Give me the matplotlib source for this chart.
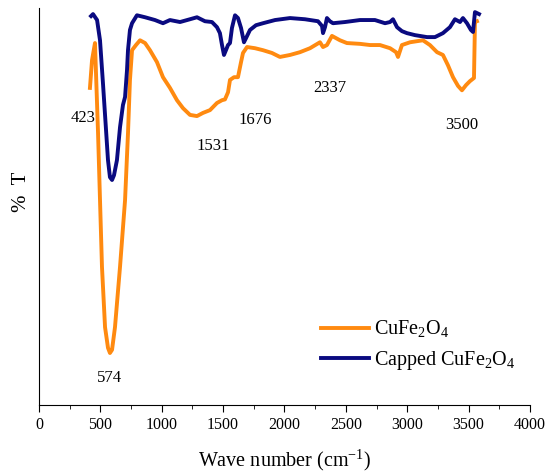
import numpy as np
import matplotlib
matplotlib.use("Agg")
import matplotlib.pyplot as plt

plt.rcParams['font.family'] = ['Liberation Serif', 'DejaVu Serif']
plt.rcParams['mathtext.fontset'] = 'custom'
plt.rcParams['mathtext.rm'] = 'Liberation Serif'

# FTIR spectra (wave number cm-1, relative %T)
wave_plain = [415, 432, 456, 481, 497, 513, 538, 562, 578, 595, 619, 660, 701, 725, 741,
              758, 790, 823, 864, 904, 961, 1010, 1067, 1124, 1173, 1230, 1287, 1336, 1393,
              1450, 1491, 1515, 1540, 1556, 1589, 1621, 1646, 1662, 1695, 1760, 1825, 1898,
              1963, 2045, 2126, 2208, 2289, 2314, 2346, 2387, 2452, 2509, 2615, 2697, 2778,
              2860, 2909, 2925, 2957, 3023, 3128, 3185, 3243, 3291, 3332, 3373, 3414, 3446,
              3479, 3511, 3544, 3552, 3568]
t_plain = [79.9, 86.9, 91.2, 68.5, 51.6, 34.8, 19.6, 14.4, 13.1, 13.9, 19.6, 34.8, 51.6, 68.5,
           81.9, 89.4, 90.7, 91.9, 91.2, 89.4, 86.4, 82.6, 79.9, 76.8, 74.8, 73.1, 72.8, 73.6,
           74.3, 76.1, 76.8, 77.0, 78.8, 81.9, 82.6, 82.6, 86.4, 88.7, 90.2, 89.9, 89.4, 88.7,
           87.7, 88.2, 88.9, 89.9, 91.4, 90.2, 90.7, 93.0, 91.9, 91.2, 91.0, 90.7, 90.7, 89.9,
           88.9, 87.7, 90.7, 91.4, 91.9, 90.7, 88.9, 88.2, 85.6, 82.6, 80.4, 79.3, 80.6, 81.6,
           82.4, 96.5, 96.7]

wave_capped = [424, 440, 473, 497, 521, 546, 562, 578, 595, 611, 635, 660, 684, 701, 717, 725,
               741, 758, 798, 864, 945, 1010, 1067, 1149, 1230, 1287, 1352, 1409, 1450, 1474,
               1491, 1507, 1523, 1540, 1556, 1572, 1597, 1621, 1646, 1670, 1686, 1719, 1768,
               1825, 1923, 2045, 2167, 2273, 2306, 2314, 2330, 2346, 2370, 2395, 2493, 2615,
               2737, 2819, 2860, 2884, 2917, 2957, 2998, 3063, 3161, 3226, 3291, 3348, 3389,
               3430, 3454, 3487, 3519, 3536, 3552, 3585]
t_capped = [98.0, 98.5, 97.0, 91.9, 81.1, 69.3, 61.7, 57.4, 56.7, 57.9, 61.7, 70.0, 75.6, 77.6,
            84.4, 89.4, 94.5, 96.2, 98.2, 97.7, 97.0, 96.2, 97.0, 96.5, 97.2, 97.7, 96.7, 96.5,
            95.2, 93.7, 90.7, 88.2, 89.4, 90.7, 91.2, 95.0, 98.2, 97.5, 95.0, 91.4, 92.4, 94.5,
            95.7, 96.2, 97.0, 97.5, 97.2, 96.7, 95.5, 93.7, 95.2, 97.5, 96.7, 96.2, 96.5, 97.0,
            97.0, 96.2, 96.5, 97.2, 95.2, 94.2, 93.7, 93.2, 92.7, 92.7, 93.7, 95.2, 97.2, 96.5,
            97.5, 96.2, 94.5, 94.0, 99.0, 98.5]

peak_labels = ['423', '574', '1531', '1676', '2337', '3500']
peak_x = [358, 578, 1418, 1760, 2371, 3446]
peak_y = [72.3, 6.8, 65.2, 71.8, 79.9, 70.5]

fig = plt.figure(figsize=(5.51, 4.73), dpi=100)
ax = fig.add_axes([0.0708, 0.1438, 0.891, 0.839])

ax.plot(wave_plain, t_plain, color='#FF8A10', lw=2.8, label='CuFe$_\\mathregular{2}$O$_\\mathregular{4}$')
ax.plot(wave_capped, t_capped, color='#0A0A80', lw=2.8, label='Capped CuFe$_\\mathregular{2}$O$_\\mathregular{4}$')

for lab, x, y in zip(peak_labels, peak_x, peak_y):
    ax.text(x, y, lab, ha='center', va='center', fontsize=12)

ax.set_xlim(0, 4000)
ax.set_ylim(0, 100)
ax.set_xticks(np.arange(0, 4001, 500))
ax.set_xticks(np.arange(250, 4000, 500), minor=True)
ax.tick_params(axis='x', which='major', direction='out', length=5, labelsize=11.5, pad=4)
ax.tick_params(axis='x', which='minor', direction='out', length=3)
ax.set_yticks([])
ax.spines['top'].set_visible(False)
ax.spines['right'].set_visible(False)

fig.text(285 / 551, 1 - 460 / 473, 'Wave number (cm$^\\mathregular{-1}$)', ha='center', va='center', fontsize=14.5)
fig.text(22 / 551, 1 - 192 / 473, '%  T', ha='center', va='center', rotation=90, fontsize=15)

ax.legend(loc='upper left', bbox_to_anchor=(321 / 551, 1 - 319 / 473), bbox_transform=fig.transFigure,
          frameon=False, borderpad=0, borderaxespad=0, handlelength=2.4, handletextpad=0.25,
          labelspacing=0.45, fontsize=14.5)

fig.savefig('out.png', dpi=100)
